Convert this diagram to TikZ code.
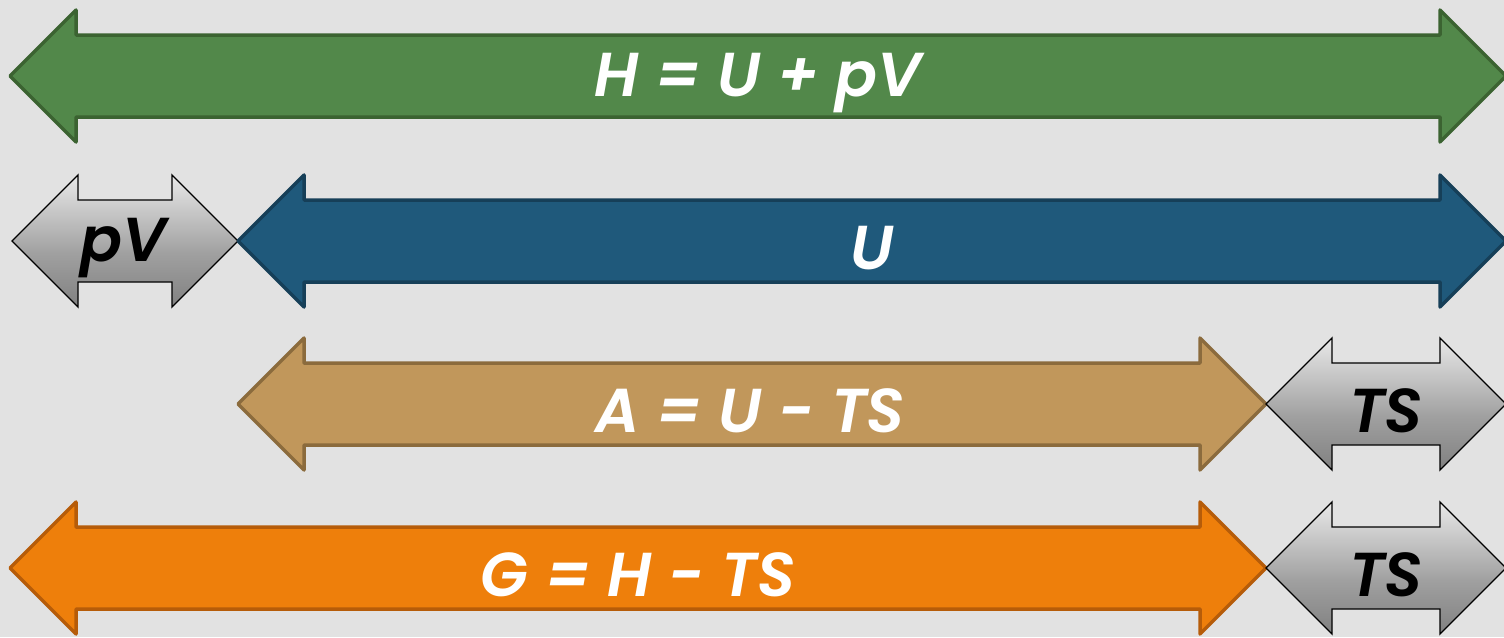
\documentclass[tikz,border=0pt]{standalone}
\usepackage{fontspec}
\setmainfont{Poppins}[BoldItalicFont={Poppins SemiBold Italic}]
\usetikzlibrary{calc}
\definecolor{bgc}{HTML}{E2E2E2}
\definecolor{gfill}{HTML}{52884A}
\definecolor{gdraw}{HTML}{3B6331}
\definecolor{bfill}{HTML}{1F597B}
\definecolor{bdraw}{HTML}{163F58}
\definecolor{tfill}{HTML}{C1975B}
\definecolor{tdraw}{HTML}{8B6B3D}
\definecolor{ofill}{HTML}{EE7F0B}
\definecolor{odraw}{HTML}{B65C09}
\pgfdeclareverticalshading{metal}{100bp}{
  color(0bp)=(white!80!gray); color(20bp)=(gray!95!black); color(45bp)=(gray!75!white);
  color(80bp)=(white!92!gray); color(100bp)=(white)}
\tikzset{
  colarrow/.style={line width=3.5pt, line join=round},
  grayarrow/.style={draw=black, line width=1.3pt, line join=miter, shading=metal},
  wlabel/.style={text=white, font=\fontsize{62}{62}\selectfont\bfseries\itshape, inner sep=0pt},
  klabel/.style={text=black, font=\fontsize{62}{62}\selectfont\bfseries\itshape, inner sep=0pt},
}
% #1 left tip x, #2 right tip x, #3 centre y, #4 style
\newcommand{\dblarr}[4]{%
  \path[#4] (#1,#3) -- ++(66,-66) -- ++(0,25) -- (#2-66,#3-41) -- ++(0,-25) -- (#2,#3)
    -- ++(-66,66) -- ++(0,-25) -- (#1+66,#3+41) -- ++(0,25) -- cycle;}
\begin{document}
\begin{tikzpicture}[x=1pt,y=-1pt]
\fill[bgc] (0,0) rectangle (1504,637);
\useasboundingbox (0,0) rectangle (1504,637);
% row 1
\dblarr{10}{1506}{76}{colarrow, fill=gfill, draw=gdraw}
\node[wlabel] (h) at (758,83) {H = U + pV};
% row 2
\dblarr{12}{238}{241}{grayarrow}
\dblarr{238}{1506}{241}{colarrow, fill=bfill, draw=bdraw}
\node[klabel] (pv) at (124,248) {pV};
\node[wlabel] (u) at (872,248) {U};
% row 3
\dblarr{238}{1266}{404}{colarrow, fill=tfill, draw=tdraw}
\dblarr{1266}{1506}{404}{grayarrow}
\node[wlabel] (a) at (750,411) {A = U - TS};
\node[klabel] (ts1) at (1386,411) {TS};
% row 4
\dblarr{10}{1266}{568}{colarrow, fill=ofill, draw=odraw}
\dblarr{1266}{1506}{568}{grayarrow}
\node[wlabel] (g) at (638,575) {G = H - TS};
\node[klabel] (ts2) at (1386,575) {TS};
\end{tikzpicture}
\end{document}
